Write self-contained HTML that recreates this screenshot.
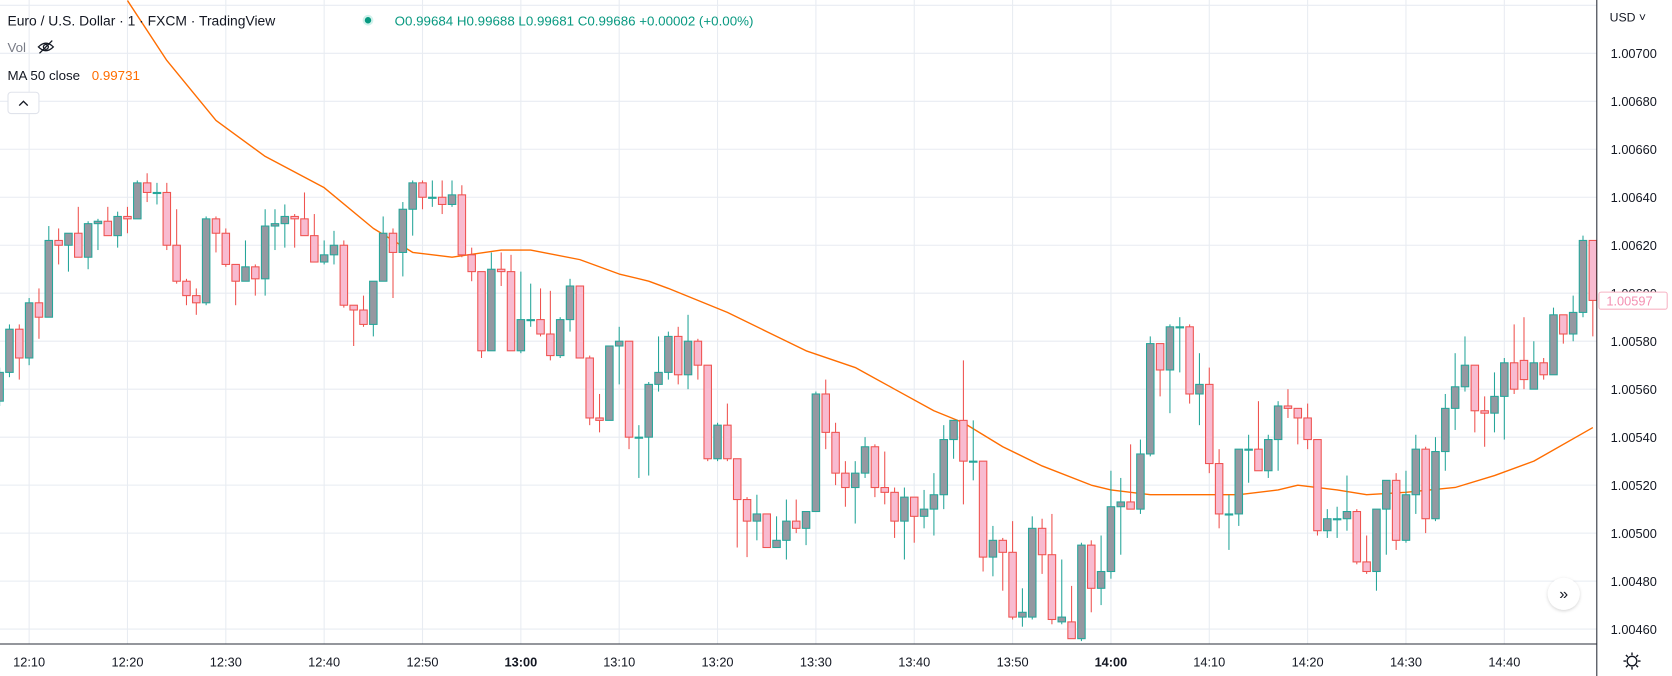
<!DOCTYPE html>
<html><head><meta charset="utf-8">
<style>
html,body{margin:0;padding:0;background:#fff;}
svg{display:block;}
text{font-family:"Liberation Sans",sans-serif;}
</style></head>
<body>
<svg id="chart" width="1672" height="676" viewBox="0 0 1567.5 634" preserveAspectRatio="none" xmlns="http://www.w3.org/2000/svg">
<defs>
<clipPath id="plotClip"><rect x="0" y="0" width="1497" height="604"/></clipPath>
<filter id="sh" x="-50%" y="-50%" width="200%" height="200%"><feDropShadow dx="0" dy="1" stdDeviation="1.5" flood-color="#000" flood-opacity="0.18"/></filter>
</defs>
<rect x="0" y="0" width="1567.5" height="634" fill="#ffffff"/>
<g id="grid"></g>
<g id="ma" clip-path="url(#plotClip)"></g>
<g id="candles" clip-path="url(#plotClip)"></g>
<line x1="1497" y1="0" x2="1497" y2="634" stroke="#2a2e39" stroke-width="1"/>
<line x1="0" y1="604" x2="1497" y2="604" stroke="#2a2e39" stroke-width="1"/>
<g id="yaxis"></g>
<g id="xaxis"></g>
<text x="1509" y="20" font-size="11.5" fill="#131722">USD ˅</text>
<g>
<rect x="1499" y="274" width="64" height="16" rx="2" fill="#fff" stroke="#f7b3c4" stroke-width="1"/>
<text x="1506" y="286.5" font-size="12" fill="#f48fb1">1.00597</text>
</g>
<g transform="translate(1530,620)" stroke="#131722" fill="none" stroke-width="1.3">
<circle r="4.5"/>
<path d="M0 -8V-5.5M0 5.5V8M-8 0H-5.5M5.5 0H8M-5.7 -5.7L-3.9 -3.9M3.9 3.9L5.7 5.7M-5.7 5.7L-3.9 3.9M3.9 -3.9L5.7 -5.7"/>
</g>
<g>
<circle cx="1466" cy="557" r="15" fill="#fff" filter="url(#sh)"/>
<text x="1466" y="562" font-size="15" fill="#131722" text-anchor="middle">»</text>
</g>
<g>
<text x="7" y="24" font-size="13" fill="#131722">Euro / U.S. Dollar · 1 · FXCM · TradingView</text>
<circle cx="345" cy="19" r="5" fill="#d1f2ec"/>
<circle cx="345" cy="19" r="3" fill="#089981"/>
<text x="370" y="24" font-size="12.5" fill="#089981">O0.99684  H0.99688  L0.99681  C0.99686  +0.00002 (+0.00%)</text>
<text x="7" y="49" font-size="12.5" fill="#787b86">Vol</text>
<g transform="translate(43,44)" stroke="#131722" fill="none" stroke-width="1.2">
<path d="M-7 0Q0 -7 7 0Q0 7 -7 0Z"/><circle r="2.3"/><path d="M-6 6L6 -6"/>
</g>
<text x="7" y="75" font-size="12.5" fill="#131722">MA 50 close</text>
<text x="86" y="75" font-size="12.5" fill="#ff6d00">0.99731</text>
<g>
<rect x="7.5" y="86.5" width="29" height="20" rx="3" fill="#fff" stroke="#e0e3eb"/>
<path d="M18 99L22 95L26 99" stroke="#131722" stroke-width="1.3" fill="none"/>
</g>
</g>
</svg>
<script>
const opens=[1.00555,1.00567,1.00585,1.00573,1.00596,1.00590,1.00622,1.00620,1.00625,1.00615,1.00629,1.00630,1.00624,1.00632,1.00631,1.00646,1.00642,1.00642,1.00620,1.00605,1.00599,1.00596,1.00631,1.00625,1.00612,1.00605,1.00611,1.00606,1.00628,1.00629,1.00632,1.00631,1.00624,1.00613,1.00616,1.00620,1.00595,1.00593,1.00587,1.00605,1.00625,1.00617,1.00635,1.00646,1.00640,1.00640,1.00637,1.00641,1.00616,1.00609,1.00576,1.00610,1.00609,1.00576,1.00589,1.00589,1.00583,1.00574,1.00589,1.00603,1.00573,1.00548,1.00547,1.00578,1.00580,1.00540,1.00540,1.00562,1.00567,1.00582,1.00566,1.00580,1.00570,1.00531,1.00545,1.00531,1.00514,1.00505,1.00508,1.00494,1.00497,1.00505,1.00502,1.00509,1.00558,1.00542,1.00525,1.00519,1.00525,1.00536,1.00519,1.00517,1.00505,1.00515,1.00507,1.00510,1.00516,1.00539,1.00547,1.00530,1.00530,1.00490,1.00497,1.00492,1.00465,1.00465,1.00502,1.00491,1.00463,1.00463,1.00456,1.00495,1.00477,1.00484,1.00511,1.00513,1.00510,1.00533,1.00579,1.00568,1.00586,1.00586,1.00558,1.00562,1.00529,1.00508,1.00508,1.00535,1.00535,1.00526,1.00539,1.00553,1.00552,1.00548,1.00539,1.00501,1.00506,1.00506,1.00509,1.00488,1.00484,1.00510,1.00522,1.00497,1.00516,1.00535,1.00506,1.00534,1.00552,1.00561,1.00570,1.00551,1.00550,1.00557,1.00571,1.00572,1.00560,1.00571,1.00566,1.00591,1.00583,1.00592,1.00622];
const highs=[1.00569,1.00587,1.00587,1.00598,1.00602,1.00628,1.00627,1.00625,1.00636,1.00630,1.00631,1.00636,1.00634,1.00636,1.00647,1.00650,1.00646,1.00646,1.00635,1.00606,1.00602,1.00632,1.00632,1.00627,1.00612,1.00622,1.00612,1.00635,1.00635,1.00637,1.00633,1.00642,1.00633,1.00622,1.00626,1.00622,1.00595,1.00599,1.00605,1.00632,1.00627,1.00638,1.00647,1.00647,1.00647,1.00647,1.00647,1.00645,1.00619,1.00609,1.00617,1.00617,1.00616,1.00609,1.00604,1.00602,1.00601,1.00590,1.00606,1.00603,1.00574,1.00558,1.00578,1.00586,1.00580,1.00545,1.00563,1.00582,1.00584,1.00586,1.00591,1.00581,1.00570,1.00546,1.00554,1.00531,1.00515,1.00516,1.00508,1.00507,1.00514,1.00514,1.00509,1.00559,1.00564,1.00546,1.00530,1.00530,1.00540,1.00537,1.00534,1.00519,1.00519,1.00515,1.00518,1.00525,1.00545,1.00547,1.00572,1.00547,1.00530,1.00503,1.00498,1.00505,1.00477,1.00507,1.00506,1.00508,1.00489,1.00478,1.00496,1.00497,1.00499,1.00526,1.00523,1.00537,1.00539,1.00582,1.00579,1.00587,1.00590,1.00587,1.00575,1.00569,1.00535,1.00516,1.00535,1.00541,1.00555,1.00541,1.00555,1.00560,1.00552,1.00554,1.00539,1.00510,1.00511,1.00524,1.00510,1.00499,1.00510,1.00522,1.00525,1.00526,1.00541,1.00536,1.00540,1.00558,1.00575,1.00582,1.00570,1.00557,1.00567,1.00573,1.00587,1.00590,1.00580,1.00573,1.00594,1.00591,1.00599,1.00624,1.00622];
const lows=[1.00553,1.00565,1.00564,1.00570,1.00581,1.00590,1.00612,1.00609,1.00615,1.00610,1.00618,1.00624,1.00619,1.00625,1.00631,1.00638,1.00637,1.00618,1.00604,1.00595,1.00591,1.00595,1.00617,1.00611,1.00595,1.00605,1.00599,1.00599,1.00618,1.00619,1.00619,1.00624,1.00613,1.00612,1.00612,1.00594,1.00578,1.00586,1.00582,1.00605,1.00598,1.00607,1.00624,1.00635,1.00636,1.00633,1.00636,1.00615,1.00605,1.00573,1.00576,1.00603,1.00576,1.00575,1.00586,1.00582,1.00572,1.00573,1.00584,1.00573,1.00545,1.00542,1.00547,1.00562,1.00535,1.00523,1.00524,1.00559,1.00564,1.00562,1.00560,1.00564,1.00530,1.00530,1.00530,1.00494,1.00490,1.00497,1.00494,1.00494,1.00489,1.00500,1.00495,1.00509,1.00535,1.00520,1.00511,1.00504,1.00523,1.00515,1.00512,1.00498,1.00489,1.00496,1.00502,1.00499,1.00510,1.00531,1.00512,1.00522,1.00484,1.00482,1.00476,1.00464,1.00461,1.00464,1.00483,1.00462,1.00462,1.00456,1.00455,1.00467,1.00470,1.00481,1.00491,1.00510,1.00508,1.00532,1.00557,1.00550,1.00567,1.00554,1.00545,1.00525,1.00502,1.00493,1.00503,1.00521,1.00526,1.00523,1.00526,1.00548,1.00537,1.00535,1.00499,1.00498,1.00498,1.00501,1.00487,1.00483,1.00476,1.00491,1.00493,1.00496,1.00508,1.00500,1.00505,1.00526,1.00543,1.00559,1.00542,1.00536,1.00542,1.00539,1.00558,1.00560,1.00560,1.00564,1.00569,1.00579,1.00580,1.00590,1.00582];
const closes=[1.00567,1.00585,1.00573,1.00596,1.00590,1.00622,1.00620,1.00625,1.00615,1.00629,1.00630,1.00624,1.00632,1.00631,1.00646,1.00642,1.00642,1.00620,1.00605,1.00599,1.00596,1.00631,1.00625,1.00612,1.00605,1.00611,1.00606,1.00628,1.00629,1.00632,1.00631,1.00624,1.00613,1.00616,1.00620,1.00595,1.00593,1.00587,1.00605,1.00625,1.00617,1.00635,1.00646,1.00640,1.00640,1.00637,1.00641,1.00616,1.00609,1.00576,1.00610,1.00609,1.00576,1.00589,1.00589,1.00583,1.00574,1.00589,1.00603,1.00573,1.00548,1.00547,1.00578,1.00580,1.00540,1.00540,1.00562,1.00567,1.00582,1.00566,1.00580,1.00570,1.00531,1.00545,1.00531,1.00514,1.00505,1.00508,1.00494,1.00497,1.00505,1.00502,1.00509,1.00558,1.00542,1.00525,1.00519,1.00525,1.00536,1.00519,1.00517,1.00505,1.00515,1.00507,1.00510,1.00516,1.00539,1.00547,1.00530,1.00530,1.00490,1.00497,1.00492,1.00465,1.00467,1.00502,1.00491,1.00464,1.00465,1.00456,1.00495,1.00477,1.00484,1.00511,1.00513,1.00510,1.00533,1.00579,1.00568,1.00586,1.00586,1.00558,1.00562,1.00529,1.00508,1.00508,1.00535,1.00535,1.00526,1.00539,1.00553,1.00552,1.00548,1.00539,1.00501,1.00506,1.00506,1.00509,1.00488,1.00484,1.00510,1.00522,1.00497,1.00516,1.00535,1.00506,1.00534,1.00552,1.00561,1.00570,1.00551,1.00550,1.00557,1.00571,1.00560,1.00564,1.00571,1.00566,1.00591,1.00583,1.00592,1.00622,1.00597];
const firstMinute=7; // 12:07
const maIndex=[13,17,22,27,33,38,42,46,51,54,59,63,66,68,74,78,82,87,91,95,98,102,106,111,113,117,122,126,130,132,136,139,143,148,152,156,162];
const maValues=[1.00722,1.00697,1.00672,1.00657,1.00644,1.00627,1.00617,1.00615,1.00618,1.00618,1.00614,1.00608,1.00605,1.00602,1.00592,1.00584,1.00576,1.00569,1.00560,1.00551,1.00546,1.00536,1.00528,1.00520,1.00518,1.00516,1.00516,1.00516,1.00518,1.00520,1.00518,1.00516,1.00517,1.00519,1.00524,1.00530,1.00544];
const priceTicks=[1.00700,1.00680,1.00660,1.00640,1.00620,1.00600,1.00580,1.00560,1.00540,1.00520,1.00500,1.00480,1.00460];
const timeTickMinutes=[10,20,30,40,50,60,70,80,90,100,110,120,130,140,150,160];
const timeTickLabels=["12:10","12:20","12:30","12:40","12:50","13:00","13:10","13:20","13:30","13:40","13:50","14:00","14:10","14:20","14:30","14:40"];

const NS="http://www.w3.org/2000/svg";
function yOf(p){return 50+(1.007-p)/0.0002*45;}
function xOfMinute(m){return 27.3+(m-10)*9.22;}
function xOfIndex(k){return xOfMinute(firstMinute+k);}
function mk(tag,attrs,parent){const e=document.createElementNS(NS,tag);for(const k in attrs)e.setAttribute(k,attrs[k]);parent.appendChild(e);return e;}

const GRID='#e8ecf2';
const grid=document.getElementById('grid');
const yaxis=document.getElementById('yaxis');
const xaxis=document.getElementById('xaxis');
const gTop=mk('line',{x1:0,x2:1497,y1:yOf(1.0072),y2:yOf(1.0072),stroke:GRID,'stroke-width':1},grid);


priceTicks.forEach(function(p,i){
  const y=yOf(p);
  const gl=mk('line',{x1:0,x2:1497,y1:y,y2:y,stroke:GRID,'stroke-width':1},grid);
  
  
  const t=mk('text',{x:1510,y:y+4.5,'font-size':12,fill:'#131722'},yaxis);
  t.textContent=p.toFixed(5);
  
  
});
timeTickMinutes.forEach(function(m,i){
  const x=xOfMinute(m);
  const gl=mk('line',{x1:x,x2:x,y1:0,y2:604,stroke:GRID,'stroke-width':1},grid);
  
  
  const bold=timeTickLabels[i].endsWith(':00');
  const t=mk('text',{x:x,y:625,'font-size':12,fill:'#131722','text-anchor':'middle','font-weight':bold?'bold':'normal'},xaxis);
  t.textContent=timeTickLabels[i];
  
  
});

let d='';
maIndex.forEach(function(k,i){d+=(i?'L':'M')+xOfIndex(k).toFixed(1)+' '+yOf(maValues[i]).toFixed(1);});
const ma=mk('path',{d:d,fill:'none',stroke:'#ff6d00','stroke-width':1.3,'stroke-linejoin':'round'},document.getElementById('ma'));



const cg=document.getElementById('candles');
for(let k=0;k<closes.length;k++){
  const x=xOfIndex(k);
  const up=closes[k]>=opens[k];
  const stroke=up?'#26a69a':'#ef5350';
  const fill=up?'#9598a1':'#f8bbd0';
  const g=mk('g',{},cg);
  
  
  mk('line',{x1:x,x2:x,y1:yOf(highs[k]),y2:yOf(lows[k]),stroke:stroke,'stroke-width':1},g);
  const top=yOf(Math.max(opens[k],closes[k]));
  const bot=yOf(Math.min(opens[k],closes[k]));
  mk('rect',{x:x-3.5,y:top,width:7,height:Math.max(1,bot-top),fill:fill,stroke:stroke,'stroke-width':1},g);
}
</script>
</body></html>
